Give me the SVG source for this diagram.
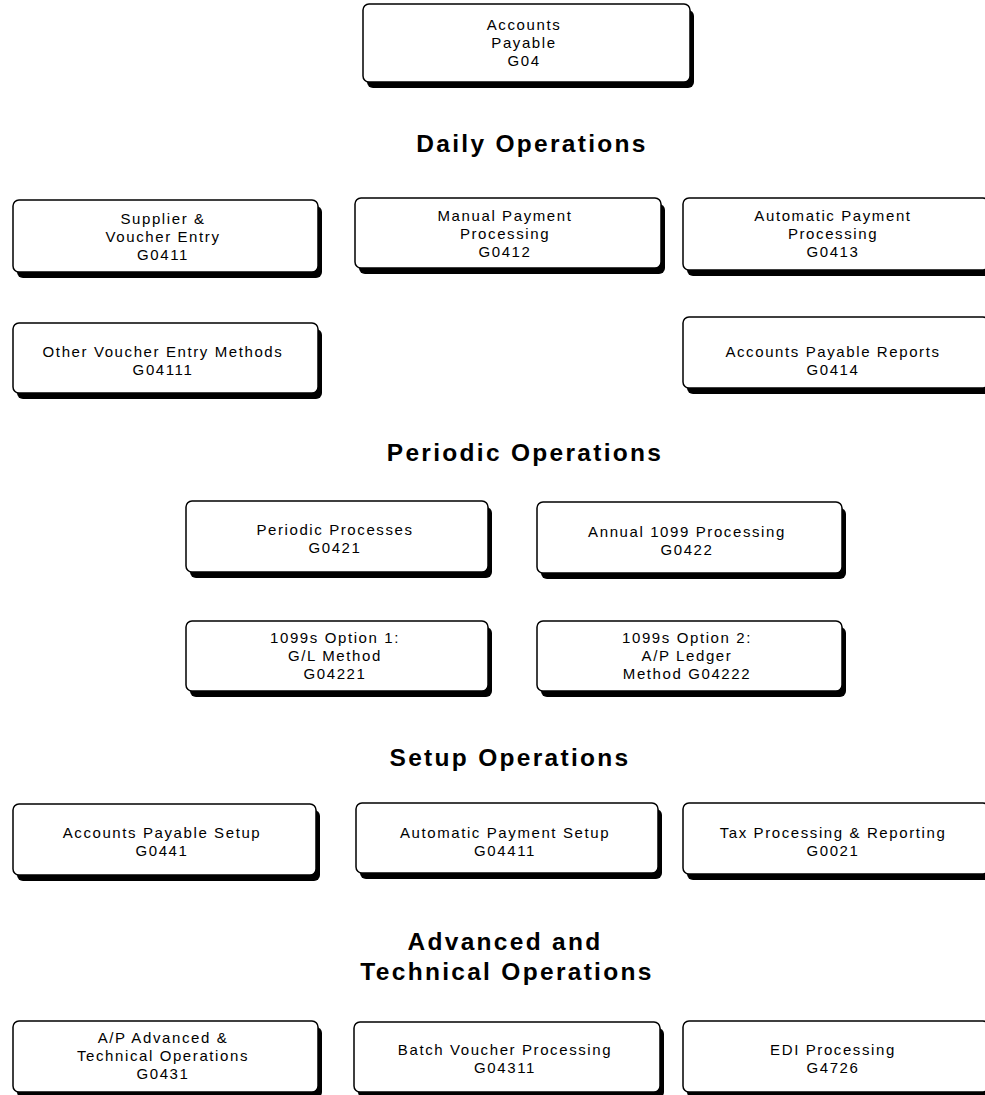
<svg xmlns="http://www.w3.org/2000/svg" width="985" height="1095" viewBox="0 0 985 1095">
  <style>
    .shadow { fill: #000; }
    .box { fill: #fff; stroke: #000; stroke-width: 1.5; }
    .lbl { font-family: "Liberation Sans", Arial, sans-serif; font-size: 15px; letter-spacing: 1.6px; text-anchor: middle; fill: #000; }
    .hdr { font-family: "Liberation Sans", Arial, sans-serif; font-size: 24.5px; font-weight: bold; letter-spacing: 2.3px; text-anchor: middle; fill: #000; }
  </style>
  <rect width="985" height="1095" fill="#fff"/>

  <!-- section headings -->
  <g id="headings">
    <text class="hdr" x="532" y="152">Daily Operations</text>
    <text class="hdr" x="525" y="461">Periodic Operations</text>
    <text class="hdr" x="510" y="766">Setup Operations</text>
    <text class="hdr" x="505" y="950">Advanced and</text>
    <text class="hdr" x="507" y="980">Technical Operations</text>
  </g>

  <g id="connectors"></g>

  <!-- menu nodes: drop shadow, framed box, label lines -->
  <g id="n-g04">
    <rect class="shadow" x="367" y="10" width="327" height="78" rx="6"/>
    <rect class="box" x="363" y="4" width="327" height="78" rx="6"/>
    <text class="lbl" x="524" y="30">Accounts</text>
    <text class="lbl" x="524" y="48">Payable</text>
    <text class="lbl" x="524" y="66">G04</text>
  </g>

  <g id="n-g0411">
    <rect class="shadow" x="17" y="206" width="305" height="72" rx="6"/>
    <rect class="box" x="13" y="200" width="305" height="72" rx="6"/>
    <text class="lbl" x="163" y="224">Supplier &amp;</text>
    <text class="lbl" x="163" y="242">Voucher Entry</text>
    <text class="lbl" x="163" y="260">G0411</text>
  </g>

  <g id="n-g0412">
    <rect class="shadow" x="359" y="204" width="306" height="70" rx="6"/>
    <rect class="box" x="355" y="198" width="306" height="70" rx="6"/>
    <text class="lbl" x="505" y="221">Manual Payment</text>
    <text class="lbl" x="505" y="239">Processing</text>
    <text class="lbl" x="505" y="257">G0412</text>
  </g>

  <g id="n-g0413">
    <rect class="shadow" x="687" y="204" width="306" height="72" rx="6"/>
    <rect class="box" x="683" y="198" width="306" height="72" rx="6"/>
    <text class="lbl" x="833" y="221">Automatic Payment</text>
    <text class="lbl" x="833" y="239">Processing</text>
    <text class="lbl" x="833" y="257">G0413</text>
  </g>

  <g id="n-g04111">
    <rect class="shadow" x="17" y="329" width="305" height="70" rx="6"/>
    <rect class="box" x="13" y="323" width="305" height="70" rx="6"/>
    <text class="lbl" x="163" y="357">Other Voucher Entry Methods</text>
    <text class="lbl" x="163" y="375">G04111</text>
  </g>

  <g id="n-g0414">
    <rect class="shadow" x="687" y="323" width="306" height="71" rx="6"/>
    <rect class="box" x="683" y="317" width="306" height="71" rx="6"/>
    <text class="lbl" x="833" y="357">Accounts Payable Reports</text>
    <text class="lbl" x="833" y="375">G0414</text>
  </g>

  <g id="n-g0421">
    <rect class="shadow" x="190" y="507" width="302" height="71" rx="6"/>
    <rect class="box" x="186" y="501" width="302" height="71" rx="6"/>
    <text class="lbl" x="335" y="535">Periodic Processes</text>
    <text class="lbl" x="335" y="553">G0421</text>
  </g>

  <g id="n-g0422">
    <rect class="shadow" x="541" y="508" width="305" height="71" rx="6"/>
    <rect class="box" x="537" y="502" width="305" height="71" rx="6"/>
    <text class="lbl" x="687" y="537">Annual 1099 Processing</text>
    <text class="lbl" x="687" y="555">G0422</text>
  </g>

  <g id="n-g04221">
    <rect class="shadow" x="190" y="627" width="302" height="70" rx="6"/>
    <rect class="box" x="186" y="621" width="302" height="70" rx="6"/>
    <text class="lbl" x="335" y="643">1099s Option 1:</text>
    <text class="lbl" x="335" y="661">G/L Method</text>
    <text class="lbl" x="335" y="679">G04221</text>
  </g>

  <g id="n-g04222">
    <rect class="shadow" x="541" y="627" width="305" height="70" rx="6"/>
    <rect class="box" x="537" y="621" width="305" height="70" rx="6"/>
    <text class="lbl" x="687" y="643">1099s Option 2:</text>
    <text class="lbl" x="687" y="661">A/P Ledger</text>
    <text class="lbl" x="687" y="679">Method G04222</text>
  </g>

  <g id="n-g0441">
    <rect class="shadow" x="17" y="810" width="303" height="71" rx="6"/>
    <rect class="box" x="13" y="804" width="303" height="71" rx="6"/>
    <text class="lbl" x="162" y="838">Accounts Payable Setup</text>
    <text class="lbl" x="162" y="856">G0441</text>
  </g>

  <g id="n-g04411">
    <rect class="shadow" x="360" y="809" width="302" height="70" rx="6"/>
    <rect class="box" x="356" y="803" width="302" height="70" rx="6"/>
    <text class="lbl" x="505" y="838">Automatic Payment Setup</text>
    <text class="lbl" x="505" y="856">G04411</text>
  </g>

  <g id="n-g0021">
    <rect class="shadow" x="687" y="809" width="306" height="71" rx="6"/>
    <rect class="box" x="683" y="803" width="306" height="71" rx="6"/>
    <text class="lbl" x="833" y="838">Tax Processing &amp; Reporting</text>
    <text class="lbl" x="833" y="856">G0021</text>
  </g>

  <g id="n-g0431">
    <rect class="shadow" x="17" y="1027" width="305" height="71" rx="6"/>
    <rect class="box" x="13" y="1021" width="305" height="71" rx="6"/>
    <text class="lbl" x="163" y="1043">A/P Advanced &amp;</text>
    <text class="lbl" x="163" y="1061">Technical Operations</text>
    <text class="lbl" x="163" y="1079">G0431</text>
  </g>

  <g id="n-g04311">
    <rect class="shadow" x="358" y="1028" width="306" height="70" rx="6"/>
    <rect class="box" x="354" y="1022" width="306" height="70" rx="6"/>
    <text class="lbl" x="505" y="1055">Batch Voucher Processing</text>
    <text class="lbl" x="505" y="1073">G04311</text>
  </g>

  <g id="n-g4726">
    <rect class="shadow" x="687" y="1027" width="306" height="71" rx="6"/>
    <rect class="box" x="683" y="1021" width="306" height="71" rx="6"/>
    <text class="lbl" x="833" y="1055">EDI Processing</text>
    <text class="lbl" x="833" y="1073">G4726</text>
  </g>
</svg>
